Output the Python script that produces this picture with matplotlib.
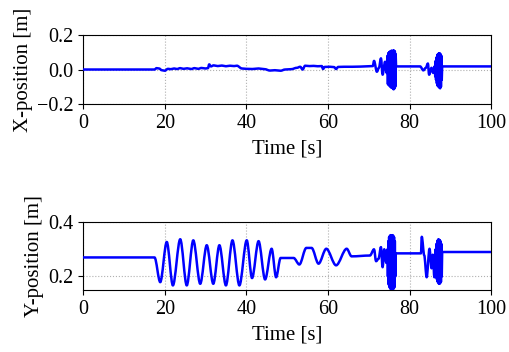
"""Position traces (X and Y) against time, two stacked panels."""

import matplotlib

matplotlib.use("Agg")
import matplotlib.pyplot as plt
from matplotlib.patches import PathPatch
from matplotlib.path import Path

plt.rcParams["font.family"] = ["Liberation Serif", "DejaVu Serif"]

# X-position trace (time [s], position [m])
x_time = [0, 17.5, 18.0, 18.6, 19.3, 20.0, 20.8, 21.5, 22.3, 23.0, 23.8, 24.6,
          25.5, 26.5, 27.3, 28.2, 29.0, 30.0, 30.6, 30.9, 31.3, 32.0, 33.0, 34.0,
          35.0, 36.0, 37.0, 37.7, 38.9, 40.0, 41.5, 43.0, 44.5, 45.8, 47.0, 48.4,
          49.5, 51.0, 52.4, 53.2, 53.8, 54.4, 55.5, 56.5, 57.5, 58.5, 58.8, 59.2,
          60.5, 61.5, 62.0, 62.5, 64.0, 66.0, 68.0, 70.0, 71.0, 71.3, 72.0, 72.5,
          73.0, 73.4, 74.0, 74.4,
          74.6, 74.7, 74.8, 74.9, 75.0, 75.1, 75.2, 75.3, 75.4, 75.5, 75.6, 75.7,
          75.8, 75.9, 76.0, 76.1, 76.2, 76.3, 76.4, 76.5, 76.6, 76.7,
          82.6, 83.4, 84.0, 84.5, 84.8, 85.4, 85.8, 86.2,
          86.3, 86.4, 86.5, 86.6, 86.7, 86.8, 86.9, 87.0, 87.1, 87.2, 87.3, 87.4,
          87.5, 87.6, 87.7, 87.8, 87.9, 88.0, 100]
x_pos = [0.0, 0.0, 0.008, 0.006, -0.004, -0.007, 0.004, 0.002, 0.006, 0.003,
         0.008, 0.004, 0.007, 0.003, 0.008, 0.004, 0.009, 0.006, 0.008, 0.030,
         0.018, 0.024, 0.020, 0.023, 0.019, 0.022, 0.020, 0.022, 0.006, 0.004,
         0.003, 0.006, 0.002, -0.006, -0.004, -0.007, 0.000, 0.002, 0.010, 0.016,
         0.000, 0.022, 0.020, 0.021, 0.019, 0.020, 0.003, 0.015, 0.016, 0.014,
         0.003, 0.015, 0.016, 0.016, 0.017, 0.019, 0.020, 0.050, -0.013, 0.010,
         0.065, -0.030, 0.045, -0.020,
         0.080, -0.085, 0.095, -0.090, 0.100, -0.095, 0.105, -0.100, 0.100, -0.105,
         0.110, -0.105, 0.105, -0.110, 0.110, -0.115, 0.110, -0.110, 0.105, -0.100,
         0.090, 0.018,
         0.018, -0.005, 0.010, 0.035, -0.030, 0.010, -0.020, 0.020,
         -0.040, 0.050, -0.060, 0.070, -0.080, 0.085, -0.095, 0.090, -0.100, 0.094,
         -0.105, 0.094, -0.109, 0.090, -0.100, 0.080, -0.060, 0.018, 0.018]

# Y-position trace (time [s], position [m])
y_time = [0, 17.5, 18.9, 20.5, 22.0, 23.8, 25.4, 27.0, 28.7, 30.3, 31.9, 33.4,
          35.0, 36.6, 38.3, 40.1, 41.4, 43.0, 44.6, 46.2, 47.3, 48.4, 51.6, 53.0,
          54.7, 56.0, 57.7, 59.6, 62.0, 64.6, 65.8, 70.3, 71.3, 71.8, 72.4, 73.0,
          73.4, 73.8, 74.3,
          74.6, 74.7, 74.8, 74.9, 75.0, 75.1, 75.2, 75.3, 75.4, 75.5, 75.6, 75.7,
          75.8, 75.9, 76.0, 76.1, 76.2, 76.3, 76.4, 76.5, 76.6,
          82.8, 83.0, 83.6, 84.2, 84.9, 85.4, 85.7, 86.1,
          86.4, 86.5, 86.6, 86.7, 86.8, 86.9, 87.0, 87.1, 87.2, 87.3, 87.4, 87.5,
          87.6, 87.7, 87.8, 87.9, 88.0, 100]
y_pos = [0.270, 0.270, 0.179, 0.327, 0.167, 0.337, 0.167, 0.333, 0.173, 0.315,
         0.173, 0.315, 0.167, 0.333, 0.167, 0.333, 0.194, 0.330, 0.189, 0.302,
         0.197, 0.268, 0.268, 0.244, 0.305, 0.305, 0.247, 0.302, 0.241, 0.302,
         0.274, 0.277, 0.300, 0.256, 0.265, 0.308, 0.234, 0.300, 0.250,
         0.300, 0.200, 0.330, 0.170, 0.345, 0.160, 0.350, 0.155, 0.352, 0.152,
         0.350, 0.151, 0.352, 0.152, 0.350, 0.155, 0.345, 0.160, 0.330, 0.200,
         0.285,
         0.285, 0.346, 0.278, 0.197, 0.302, 0.230, 0.280, 0.197,
         0.300, 0.210, 0.320, 0.190, 0.330, 0.180, 0.336, 0.175, 0.336, 0.173,
         0.334, 0.175, 0.330, 0.180, 0.320, 0.200, 0.290, 0.290]

x_ticks = [0, 20, 40, 60, 80, 100]
panels = [
    (x_time, x_pos, "X-position [m]", (-0.2, 0.2), [-0.2, 0.0, 0.2]),
    (y_time, y_pos, "Y-position [m]", (0.15, 0.4), [0.2, 0.4]),
]


def smooth_trace(ax, t, v, **kw):
    """Join the read points with cubic Bezier pieces that are flat at each point,
    so the swings between extrema look rounded like the original trace."""
    verts = [(t[0], v[0])]
    codes = [Path.MOVETO]
    for (t0, v0), (t1, v1) in zip(zip(t[:-1], v[:-1]), zip(t[1:], v[1:])):
        d = 0.33 * (t1 - t0)
        verts += [(t0 + d, v0), (t1 - d, v1), (t1, v1)]
        codes += [Path.CURVE4] * 3
    ax.add_patch(PathPatch(Path(verts, codes), fill=False, **kw))


fig = plt.figure(figsize=(5.1, 3.52), dpi=100)
rects = [[0.163, 0.7045, 0.800, 0.196], [0.163, 0.176, 0.800, 0.193]]

for rect, (t, v, ylabel, ylim, yticks) in zip(rects, panels):
    ax = fig.add_axes(rect)
    smooth_trace(ax, t, v, edgecolor="#0000ff", lw=1.8, capstyle="round",
                 joinstyle="round", zorder=3)
    ax.set_xlim(0, 100)
    ax.set_ylim(*ylim)
    ax.set_xticks(x_ticks)
    ax.set_yticks(yticks)
    ax.set_yticklabels([f"{y:.1f}".replace("-", "\u2212") for y in yticks])
    ax.grid(True, color="#b0b0b0", linestyle=":", linewidth=0.8)
    ax.tick_params(labelsize=14.5)
    ax.set_xlabel("Time [s]", fontsize=15, labelpad=5)
    ax.set_ylabel(ylabel, fontsize=15, labelpad=3)

fig.savefig("out.png", dpi=100)
